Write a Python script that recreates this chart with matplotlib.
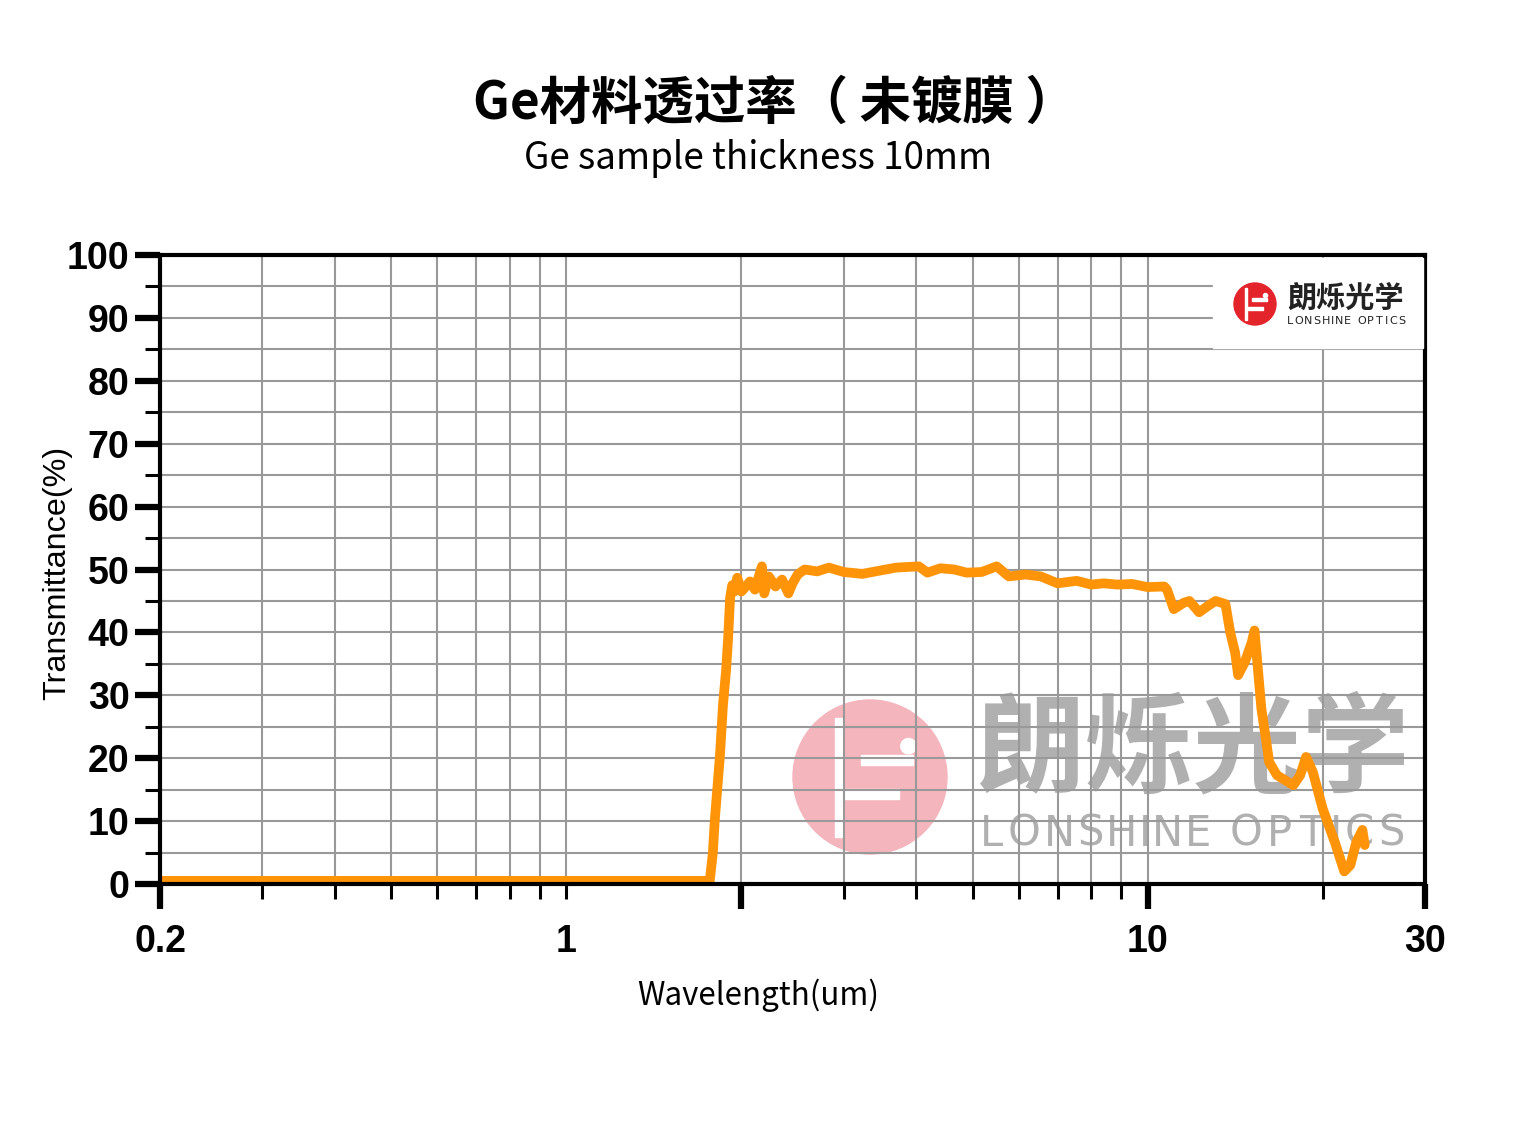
import matplotlib
matplotlib.use('Agg')
import matplotlib.pyplot as plt
from matplotlib.patches import Circle, Rectangle
from matplotlib.ticker import FixedLocator, FixedFormatter
from matplotlib.textpath import TextPath
from matplotlib.font_manager import FontProperties

plt.rcParams['font.family'] = ['Noto Sans CJK SC', 'DejaVu Sans']

wavelength = [0.2, 0.5, 1.0, 1.5, 1.765, 1.787, 1.80, 1.838, 1.86, 1.883, 1.898,
              1.913, 1.929, 1.945, 1.968, 2.0, 2.015, 2.07, 2.11, 2.17, 2.19, 2.23,
              2.29, 2.35, 2.41, 2.45, 2.50, 2.57, 2.70, 2.83, 3.0, 3.23, 3.45, 3.69,
              4.04, 4.18, 4.40, 4.65, 4.88, 5.18, 5.50, 5.77, 6.16, 6.55, 7.0, 7.55,
              8.0, 8.40, 8.87, 9.40, 10.0, 10.68, 10.80, 11.09, 11.53, 11.80, 12.26,
              12.69, 13.09, 13.61, 13.87, 14.14, 14.31, 14.70, 15.10, 15.27, 15.45,
              15.69, 16.0, 16.18, 16.69, 17.81, 18.30, 18.73, 19.24, 20.0, 20.98,
              21.79, 22.32, 22.86, 23.41, 23.63]
transmittance = [0.5, 0.5, 0.5, 0.5, 0.5, 5.0, 10.0, 20.5, 28.5, 34.0, 39.0,
                 45.5, 47.5, 46.5, 48.7, 46.5, 46.8, 48.1, 46.8, 50.5, 46.2, 48.9,
                 47.3, 48.4, 46.2, 47.8, 49.2, 50.0, 49.7, 50.3, 49.6, 49.3, 49.8, 50.3,
                 50.5, 49.5, 50.2, 50.0, 49.5, 49.6, 50.5, 48.9, 49.2, 48.9, 47.8, 48.2,
                 47.6, 47.8, 47.6, 47.7, 47.2, 47.3, 46.8, 43.7, 44.7, 45.0, 43.2,
                 44.2, 45.0, 44.5, 40.0, 36.8, 33.2, 35.3, 38.4, 40.3, 35.0,
                 27.9, 22.6, 19.4, 17.3, 15.7, 17.3, 20.2, 17.8, 12.0, 6.7,
                 2.0, 3.0, 6.7, 8.6, 6.2]

x_major = [0.2, 2, 10, 30]
x_major_labels = ['0.2', '', '10', '30']
x_minor = [0.3, 0.4, 0.5, 0.6, 0.7, 0.8, 0.9, 1, 3, 4, 5, 6, 7, 8, 9, 20]
x_minor_labels = ['', '', '', '', '', '', '', '1', '', '', '', '', '', '', '', '']
y_major = list(range(0, 101, 10))
y_minor = list(range(5, 100, 10))

title = 'Ge材料透过率（ 未镀膜 ）'
subtitle = 'Ge sample thickness 10mm'
brand_cn = '朗烁光学'
brand_en = 'LONSHINE OPTICS'

W, H = 1516, 1122
fig = plt.figure(figsize=(W / 100, H / 100), dpi=100)
ax = fig.add_axes([160 / W, 1 - 884 / H, (1425 - 160) / W, (884 - 255) / H])

ax.plot(wavelength, transmittance, color='#ff9408', lw=7, solid_joinstyle='round',
        solid_capstyle='round', zorder=2)

ax.set_xscale('log')
ax.set_xlim(0.2, 30)
ax.set_ylim(0, 100)
ax.xaxis.set_major_locator(FixedLocator(x_major))
ax.xaxis.set_major_formatter(FixedFormatter(x_major_labels))
ax.xaxis.set_minor_locator(FixedLocator(x_minor))
ax.xaxis.set_minor_formatter(FixedFormatter(x_minor_labels))
ax.yaxis.set_major_locator(FixedLocator(y_major))
ax.yaxis.set_minor_locator(FixedLocator(y_minor))

ax.set_axisbelow(True)
ax.grid(True, which='both', color='#999999', lw=1.5)
for sp in ax.spines.values():
    sp.set_linewidth(3)
ax.tick_params(which='major', length=18, width=4.5, labelsize=27, color='black')
ax.tick_params(which='minor', length=11, width=2.2, labelsize=27)
ax.tick_params(axis='x', which='major', pad=11)
ax.tick_params(axis='x', which='minor', pad=18)
ax.tick_params(axis='y', which='both', pad=4)
for lab in ax.get_xticklabels(which='both') + ax.get_yticklabels():
    lab.set_family('Liberation Sans')
    lab.set_fontweight('bold')

fig.text(0.5 + 17 / W, 1 - 103 / H, title, ha='center', va='center', fontsize=37,
         fontweight='black')
fig.text(0.5, 1 - 158 / H, subtitle, ha='center', va='center', fontsize=26.5)
fig.text(0.5, 1 - 995 / H, 'Wavelength(um)', ha='center', va='center', fontsize=22.5)
fig.text(57 / W, 1 - 573 / H, 'Transmittance(%)', ha='center', va='center',
         rotation=90, fontsize=23.3, family='Liberation Sans')


def inch(x, y):
    # reference pixel coords -> inches from bottom-left
    return x / 100, (H - y) / 100


def logo(cx, cy, r, color, z):
    tr = fig.dpi_scale_trans
    x0, y0 = inch(cx, cy)
    rr = r / 100
    ax.add_patch(Circle((x0, y0), rr, color=color, transform=tr, zorder=z))
    # L stroke gap
    ax.add_patch(Rectangle((x0 - 0.46 * rr, y0 - 0.78 * rr), 0.09 * rr, 1.54 * rr,
                           color='white', transform=tr, zorder=z))
    # S strokes
    ax.add_patch(Rectangle((x0 - 0.12 * rr, y0 + 0.15 * rr), 0.68 * rr, 0.13 * rr,
                           color='white', transform=tr, zorder=z))
    ax.add_patch(Rectangle((x0 - 0.38 * rr, y0 - 0.28 * rr), 0.76 * rr, 0.13 * rr,
                           color='white', transform=tr, zorder=z))
    ax.add_patch(Circle((x0 + 0.5 * rr, y0 + 0.4 * rr), 0.1 * rr, color='white',
                        transform=tr, zorder=z))


def spaced_text(cx, cy, s, size, span, color, z):
    # letter-spaced text, spread over `span` px centred on (cx, cy)
    fp = FontProperties(family='DejaVu Sans')
    px = size * 100 / 72
    widths = [TextPath((0, 0), ch, size=px, prop=fp).get_extents().width
              if ch != ' ' else 0 for ch in s]
    n_space = s.count(' ')
    gap = (span - sum(widths) - n_space * 0.15 * px) / (len(s) - 1)
    x = cx - span / 2
    for ch, w in zip(s, widths):
        if ch == ' ':
            x += 0.15 * px + gap
            continue
        ax.text(*inch(x + w / 2, cy), ch, transform=fig.dpi_scale_trans,
                ha='center', va='center', fontsize=size, color=color, zorder=z,
                family='DejaVu Sans')
        x += w + gap


# large watermark
logo(870, 777, 77, '#f4b5bc', 0.2)
ax.text(*inch(1193, 752), brand_cn, transform=fig.dpi_scale_trans, ha='center',
        va='center', fontsize=78, fontweight='bold', color='#b0b0b0', zorder=0.2)
spaced_text(1192, 834, brand_en, 30, 420, '#b0b0b0', 0.2)

# corner logo
x0, y0 = inch(1213, 348)
ax.add_patch(Rectangle((x0, y0), 2.1, 0.9, color='white',
                       transform=fig.dpi_scale_trans, zorder=3))
logo(1255, 304, 21, '#e3242b', 4)
ax.text(*inch(1346, 298), brand_cn, transform=fig.dpi_scale_trans, ha='center',
        va='center', fontsize=21, fontweight='bold', color='#222222', zorder=4)
spaced_text(1346, 321, brand_en, 8, 118, '#222222', 4)

fig.savefig('out.png', dpi=100)
